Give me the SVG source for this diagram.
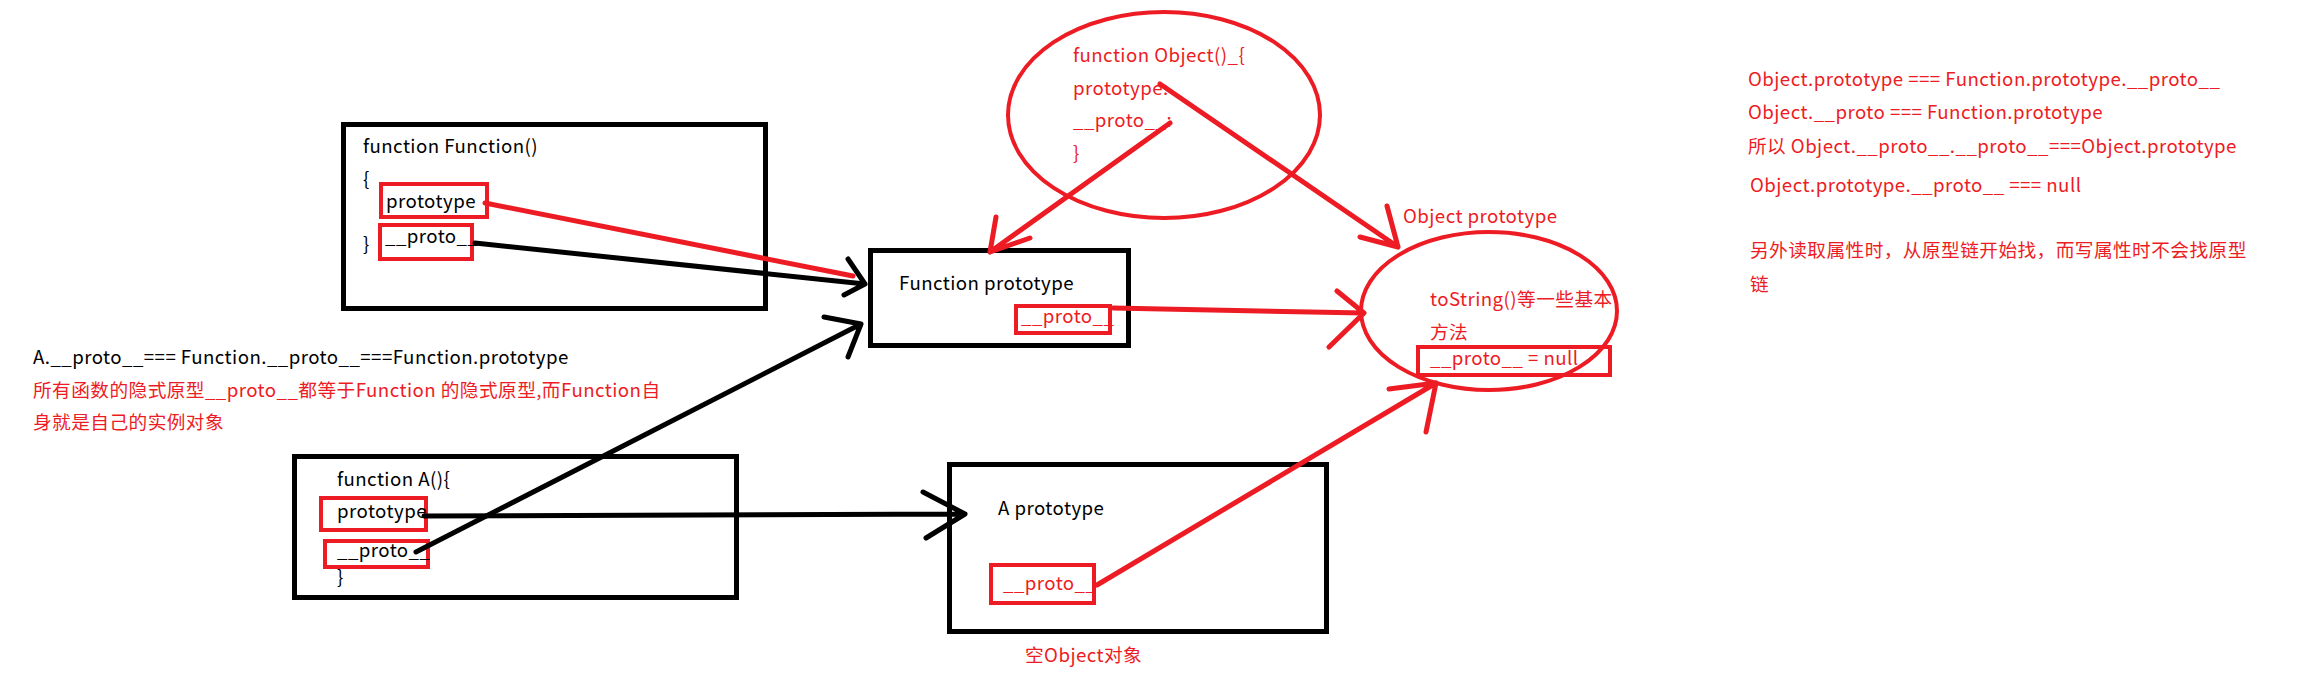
<svg xmlns="http://www.w3.org/2000/svg" width="2318" height="690" viewBox="0 0 2318 690">
<style>
text{font-family:"Noto Sans CJK SC","Noto Sans",sans-serif;font-size:18.67px;letter-spacing:0.45px;}
.k{fill:#000;}
.r{fill:#ed1c24;}
.box{fill:none;stroke:#000;stroke-width:5;}
.rbox{fill:none;stroke:#ed1c24;stroke-width:4;}
.ell{fill:none;stroke:#ed1c24;stroke-width:4;}
.kl{fill:none;stroke:#000;stroke-width:5;stroke-linecap:round;stroke-linejoin:round;}
.rl{fill:none;stroke:#ed1c24;stroke-width:5;stroke-linecap:round;stroke-linejoin:round;}
</style>
<rect width="2318" height="690" fill="#fff"/>
<g id="function-Function">
<rect class="box" x="343.5" y="124.5" width="422" height="184"/>
<text class="k" x="363" y="153">function Function()</text>
<text class="k" x="363" y="186">{</text>
<rect class="rbox" x="381" y="184" width="106" height="33"/>
<text class="k" x="386" y="208">prototype</text>
<rect class="rbox" x="380" y="225" width="92" height="34"/>
<text class="k" x="385" y="243">__proto__</text>
<text class="k" x="363" y="251">}</text>
</g>
<g id="function-prototype">
<rect class="box" x="870.5" y="250.5" width="258" height="95"/>
<text class="k" x="899" y="290">Function prototype</text>
<rect class="rbox" x="1016" y="306" width="94" height="27"/>
<text class="r" x="1021" y="323">__proto__</text>
</g>
<g id="function-Object">
<ellipse class="ell" cx="1164" cy="115" rx="156" ry="103"/>
<text class="r" x="1073" y="62">function Object()_{</text>
<text class="r" x="1073" y="95">prototype:</text>
<text class="r" x="1073" y="127">__proto__:</text>
<text class="r" x="1073" y="160">}</text>
</g>
<g id="object-prototype">
<text class="r" x="1403" y="223">Object prototype</text>
<ellipse class="ell" cx="1489" cy="311" rx="128" ry="79"/>
<text class="r" x="1430" y="306">toString()等一些基本</text>
<text class="r" x="1430" y="339">方法</text>
<rect class="rbox" x="1418" y="347" width="192" height="28"/>
<text class="r" x="1430" y="365">__proto__ = null</text>
</g>
<g id="function-A">
<rect class="box" x="294.5" y="456.5" width="442" height="141"/>
<text class="k" x="337" y="486">function A(){</text>
<rect class="rbox" x="321" y="498" width="105" height="32"/>
<text class="k" x="337" y="518">prototype</text>
<rect class="rbox" x="325" y="541" width="103" height="26"/>
<text class="k" x="337" y="557">__proto__</text>
<text class="k" x="337" y="584">}</text>
</g>
<g id="A-prototype">
<rect class="box" x="949.5" y="464.5" width="377" height="167"/>
<text class="k" x="998" y="515">A prototype</text>
<rect class="rbox" x="991" y="565" width="103" height="38"/>
<text class="r" x="1003" y="590">__proto__</text>
<text class="r" x="1025" y="662">空Object对象</text>
</g>
<g id="note-left">
<text class="k" x="33" y="364">A.__proto__=== Function.__proto__===Function.prototype</text>
<text class="r" x="33" y="397">所有函数的隐式原型__proto__都等于Function 的隐式原型,而Function自</text>
<text class="r" x="33" y="429">身就是自己的实例对象</text>
</g>
<g id="note-right">
<text class="r" x="1748" y="86">Object.prototype === Function.prototype.__proto__</text>
<text class="r" x="1748" y="119">Object.__proto === Function.prototype</text>
<text class="r" x="1748" y="153">所以 Object.__proto__.__proto__===Object.prototype</text>
<text class="r" x="1750" y="192">Object.prototype.__proto__ === null</text>
<text class="r" x="1750" y="257">另外读取属性时，从原型链开始找，而写属性时不会找原型</text>
<text class="r" x="1750" y="291">链</text>
</g>
<g id="connectors">
<path class="rl" d="M485,203 L853,276"/>
<path class="kl" d="M475,243 L865,284 M848,259 L865,284 L844,295"/>
<path class="kl" d="M416,552 L861,324 M824,317 L861,324 L848,357"/>
<path class="kl" d="M424,516 L965,514 M923,492 L965,514 L926,538"/>
<path class="rl" d="M1113,308 L1364,313 M1337,291 L1364,313 L1329,347"/>
<path class="rl" d="M1160,84 L1398,247 M1387,206 L1398,247 L1360,237"/>
<path class="rl" d="M1170,123 L990,252 M996,217 L990,252 L1030,238"/>
<path class="rl" d="M1097,585 L1436,383 M1389,389 L1436,383 L1426,432"/>
</g>
</svg>
